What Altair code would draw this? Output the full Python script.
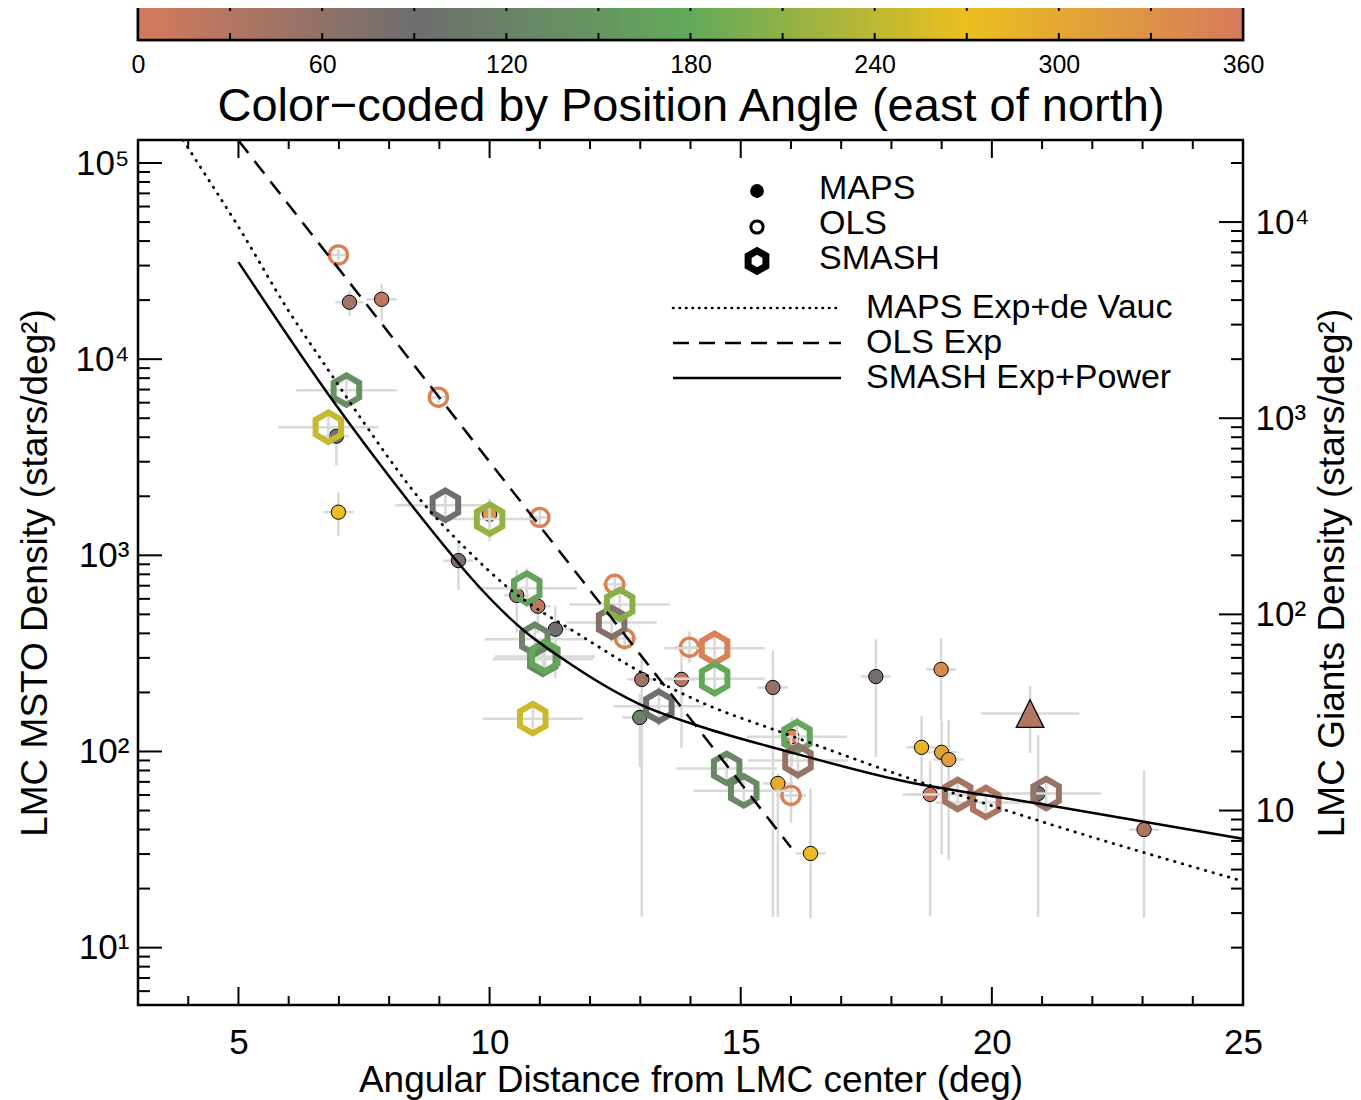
import altair as alt
import numpy as np
import pandas as pd

FONT = "Liberation Sans"
W, H = 1105, 865
CB_H = 36

# ---------------- MAPS (filled circles) ----------------
maps_x = [7.21, 7.85, 6.95, 6.99, 9.38, 10.0, 10.54, 10.96, 11.31, 13.03, 13.82, 12.99,
          15.64, 17.69, 16.02, 15.74, 16.39, 18.99, 18.6, 19.0, 19.14, 18.77, 20.92, 23.03]
maps_y = [19500, 20200, 4050, 1660, 940, 1620, 625, 550, 420, 233, 233, 149,
          212, 241, 119, 68.7, 30.2, 262, 105, 99, 91, 60.4, 61, 40]
maps_xerr = [0.28, 0.30, 0.25, 0.30, 0.30, 0.25, 0.25, 0.25, 0.30, 0.30, 0.30, 0.35,
             0.30, 0.30, 0.30, 0.30, 0.30, 0.30, 0.30, 0.30, 0.30, 0.55, 0.30, 0.30]
maps_dlo = [0.07, 0.11, 0.15, 0.12, 0.15, 0.14, 0.19, 0.14, 0.25, 1.21, 0.35, 0.25,
            1.17, 0.41, 0.15, 0.68, 0.33, 0.26, 0.20, 0.52, 0.51, 0.62, 0.63, 0.45]
maps_dhi = [0.06, 0.08, 0.03, 0.10, 0.10, 0.08, 0.13, 0.06, 0.12, 0.11, 0.15, 0.12,
            0.19, 0.19, 0.10, 0.05, 0.33, 0.16, 0.16, 0.16, 0.20, 0.17, 0.30, 0.30]
maps_pa = [45, 20, 90, 270, 80, 320, 35, 20, 88, 50, 25, 120,
           55, 85, 345, 295, 275, 340, 285, 305, 315, 10, 80, 35]

# extra MAPS point drawn as a triangle
tri_x = [20.76]
tri_y = [156]
tri_xerr = [0.98]
tri_dlo = [0.20]
tri_dhi = [0.14]
tri_pa = [30]

# ---------------- OLS (open circles) ----------------
ols_x = [6.99, 8.98, 11.0, 12.49, 12.69, 13.98, 16.0]
ols_y = [34000, 6400, 1560, 711, 377, 340, 59.7]
ols_xerr = [0.15, 0.15, 0.20, 0.25, 0.25, 0.30, 0.30]
ols_dlo = [0.03, 0.03, 0.04, 0.05, 0.06, 0.08, 0.14]
ols_dhi = [0.03, 0.03, 0.04, 0.05, 0.06, 0.08, 0.30]
ols_pa = [350, 350, 350, 350, 350, 350, 350]

# ---------------- SMASH (open hexagons) ----------------
smash_x = [7.15, 6.79, 9.12, 10.0, 10.74, 10.9, 11.06, 11.1, 12.43, 12.59, 14.48, 14.48,
           10.86, 13.37, 14.72, 15.06, 16.12, 16.14, 19.32, 19.88, 21.08]
smash_y = [6950, 4500, 1800, 1530, 680, 373, 295, 305, 455, 562, 336, 235,
           147, 170, 82, 63, 119, 90, 60.4, 55, 61]
smash_xerr = [1.0, 1.0, 1.0, 1.0, 1.0, 1.0, 1.0, 1.0, 0.9, 1.0, 1.0, 1.0,
              1.0, 0.9, 1.0, 1.0, 1.0, 1.0, 1.0, 1.0, 1.1]
smash_dlo = [0.07, 0.07, 0.07, 0.06, 0.08, 0.08, 0.08, 0.08, 0.10, 0.08, 0.08, 0.08,
             0.06, 0.10, 0.08, 0.08, 0.10, 0.10, 0.08, 0.08, 0.08]
smash_dhi = [0.07, 0.07, 0.07, 0.06, 0.10, 0.08, 0.08, 0.08, 0.10, 0.08, 0.08, 0.08,
             0.06, 0.10, 0.08, 0.08, 0.10, 0.10, 0.08, 0.08, 0.08]
smash_pa = [140, 245, 95, 215, 170, 125, 130, 175, 70, 205, 350, 180,
            250, 95, 130, 130, 175, 55, 45, 35, 55]

# ---------------- model curves ----------------
dot_x = [3.9, 4.0, 5.04, 5.94, 6.83, 7.49, 8.63, 9.52, 10.36, 11.87, 12.95, 14.26,
         15.86, 18.19, 20.92, 25.0]
dot_y = [131000, 119300, 45500, 18620, 8490, 4775, 1910, 1086, 687, 382, 259, 176,
         124, 75.5, 44.5, 21.8]
dash_x = [5.0, 16.0]
dash_y = [130300, 32.4]
solid_x = [5.0, 6.83, 8.37, 9.22, 9.62, 10.68, 11.41, 12.95, 14.26, 15.86, 18.19, 20.92, 25.0]
solid_y = [31260, 6400, 1910, 1023, 773, 414, 302, 176, 132.5, 101.2, 71.1, 54.3, 35.9]

# ---------------- ticks / labels ----------------
x_labels = [5, 10, 15, 20, 25]
x_minor = [3, 4, 6, 7, 8, 9, 11, 12, 13, 14, 16, 17, 18, 19, 21, 22, 23, 24]
left_major = [10, 100, 1000, 10000, 100000]
left_minor = [6, 7, 8, 9, 20, 30, 40, 50, 60, 70, 80, 90,
              200, 300, 400, 500, 600, 700, 800, 900,
              2000, 3000, 4000, 5000, 6000, 7000, 8000, 9000,
              20000, 30000, 40000, 50000, 60000, 70000, 80000, 90000]
right_major = [10, 100, 1000, 10000]
right_minor = [2, 3, 4, 5, 6, 7, 8, 9, 20, 30, 40, 50, 60, 70, 80, 90,
               200, 300, 400, 500, 600, 700, 800, 900,
               2000, 3000, 4000, 5000, 6000, 7000, 8000, 9000, 20000]
cb_labels = [0, 60, 120, 180, 240, 300, 360]
cb_ticks = [30, 60, 90, 120, 150, 180, 210, 240, 270, 300, 330]


def frame(x, y, xerr, dlo, dhi, pa):
    df = pd.DataFrame({"x": x, "y": y, "xerr": xerr, "dlo": dlo, "dhi": dhi, "pa": pa})
    df["xlo"] = df.x - df.xerr
    df["xhi"] = df.x + df.xerr
    df["ylo"] = df.y / 10 ** df.dlo
    df["yhi"] = df.y * 10 ** df.dhi
    return df


maps_df = frame(maps_x, maps_y, maps_xerr, maps_dlo, maps_dhi, maps_pa)
tri_df = frame(tri_x, tri_y, tri_xerr, tri_dlo, tri_dhi, tri_pa)
ols_df = frame(ols_x, ols_y, ols_xerr, ols_dlo, ols_dhi, ols_pa)
smash_df = frame(smash_x, smash_y, smash_xerr, smash_dlo, smash_dhi, smash_pa)

color_scale = alt.Scale(domain=[0, 90, 180, 270, 360],
                        range=["#d67a5c", "#6e6e6e", "#62aa5a", "#ebbf1f", "#d67a5c"],
                        interpolate="rgb")
xscale = alt.Scale(domain=[3, 25], nice=False, zero=False)
yscale = alt.Scale(type="log", domain=[5.1, 131000], nice=False)
y2scale = alt.Scale(type="log", domain=[1.02, 26200], nice=False)

SUP = "['\u2070','\u00b9','\u00b2','\u00b3','\u2074','\u2075','\u2076']"

xaxis = alt.Axis(values=x_labels, title="Angular Distance from LMC center (deg)",
                 ticks=False, domain=False, grid=False, labelFontSize=35, titleFontSize=37,
                 labelPadding=20, titlePadding=2, labelFlush=False, labelOverlap=False,
                 titleFontWeight="normal")
yaxis = alt.Axis(values=left_major,
                 labelExpr="'10' + " + SUP + "[round(log(datum.value) / LN10)]",
                 title="LMC MSTO Density (stars/deg\u00b2)",
                 ticks=False, domain=False, grid=False, labelFontSize=35, titleFontSize=37,
                 labelPadding=9, titlePadding=21, labelFlush=False, labelOverlap=False,
                 titleFontWeight="normal")
y2axis = alt.Axis(orient="right", values=right_major,
                  labelExpr="datum.value < 15 ? '10' : '10' + " + SUP + "[round(log(datum.value) / LN10)]",
                  title="LMC Giants Density (stars/deg\u00b2)",
                  ticks=False, domain=False, grid=False, labelFontSize=35, titleFontSize=37,
                  labelPadding=12, titlePadding=6, titleAngle=270, titleBaseline="top",
                  labelFlush=False, labelOverlap=False, titleFontWeight="normal")


def X(f):
    return alt.X(f, type="quantitative", scale=xscale, axis=xaxis)


def Y(f):
    return alt.Y(f, type="quantitative", scale=yscale, axis=yaxis)


def Y2(f):
    return alt.Y(f, type="quantitative", scale=y2scale, axis=y2axis)


ERR = dict(color="#d9d9d9", strokeWidth=2.5, clip=True)


def errs(df):
    h = alt.Chart(df).mark_rule(**ERR).encode(x=X("xlo"), x2="xhi", y=Y("y"))
    v = alt.Chart(df).mark_rule(**ERR).encode(x=X("x"), y=Y("ylo"), y2="yhi")
    return [h, v]


HEX = "M0,-1L0.866,-0.5L0.866,0.5L0,1L-0.866,0.5L-0.866,-0.5Z"
TRI = "M0,-1L1,1L-1,1Z"

fillpa = alt.Fill("pa:Q", scale=color_scale, legend=None)
strokepa = alt.Stroke("pa:Q", scale=color_scale, legend=None)

maps_pts = alt.Chart(maps_df).mark_point(shape="circle", filled=True, size=205, stroke="black",
                                         strokeWidth=1, opacity=1).encode(
    x=X("x"), y=Y("y"), fill=fillpa)
tri_pts = alt.Chart(tri_df).mark_point(shape=TRI, filled=True, size=760, stroke="black",
                                       strokeWidth=1.3, opacity=1).encode(
    x=X("x"), y=Y("y"), fill=fillpa)
ols_pts = alt.Chart(ols_df).mark_point(shape="circle", filled=False, size=330, strokeWidth=3.4,
                                       opacity=1).encode(x=X("x"), y=Y("y"), stroke=strokepa)
smash_pts = alt.Chart(smash_df).mark_point(shape=HEX, filled=False, size=870, strokeWidth=6,
                                           opacity=1).encode(x=X("x"), y=Y("y"), stroke=strokepa)

dot_df = pd.DataFrame({"x": dot_x, "y": dot_y})
dash_df = pd.DataFrame({"x": dash_x, "y": dash_y})
solid_df = pd.DataFrame({"x": solid_x, "y": solid_y})

dot_line = alt.Chart(dot_df).mark_line(color="black", strokeWidth=2.8, strokeDash=[0.5, 7.5],
                                       strokeCap="round", interpolate="monotone", clip=True).encode(
    x=X("x"), y=Y("y"))
dash_line = alt.Chart(dash_df).mark_line(color="black", strokeWidth=2.5, strokeDash=[16, 10],
                                         clip=True).encode(x=X("x"), y=Y("y"))
solid_line = alt.Chart(solid_df).mark_line(color="black", strokeWidth=2.5, interpolate="monotone",
                                           clip=True).encode(x=X("x"), y=Y("y"))


def tdf(vals):
    return pd.DataFrame({"v": vals})


TICK = dict(color="black", strokeWidth=2)
lt_major = alt.Chart(tdf(left_major)).mark_rule(**TICK).encode(y=Y("v"), x=alt.value(0), x2=alt.value(24))
lt_minor = alt.Chart(tdf(left_minor)).mark_rule(**TICK).encode(y=Y("v"), x=alt.value(0), x2=alt.value(12))
bt_major = alt.Chart(tdf(x_labels)).mark_rule(**TICK).encode(x=X("v"), y=alt.value(H), y2=alt.value(H - 18))
bt_minor = alt.Chart(tdf(x_minor)).mark_rule(**TICK).encode(x=X("v"), y=alt.value(H), y2=alt.value(H - 9))
tt_major = alt.Chart(tdf(x_labels)).mark_rule(**TICK).encode(x=X("v"), y=alt.value(0), y2=alt.value(18))
tt_minor = alt.Chart(tdf(x_minor)).mark_rule(**TICK).encode(x=X("v"), y=alt.value(0), y2=alt.value(9))

one = pd.DataFrame({"a": [0]})
LX, LTX = 619, 681
leg = [
    alt.Chart(one).mark_point(shape="circle", filled=True, size=190, color="black", opacity=1).encode(
        x=alt.value(LX), y=alt.value(51)),
    alt.Chart(one).mark_point(shape="circle", filled=False, size=150, color="black", strokeWidth=3,
                              opacity=1).encode(x=alt.value(LX), y=alt.value(87)),
    alt.Chart(one).mark_point(shape=HEX, filled=False, size=420, color="black", strokeWidth=7,
                              opacity=1).encode(x=alt.value(LX), y=alt.value(121)),
]
for t, yy in [("MAPS", 49), ("OLS", 84), ("SMASH", 119)]:
    leg.append(alt.Chart(one).mark_text(text=t, align="left", baseline="middle", font=FONT,
                                        fontSize=34, color="black").encode(
        x=alt.value(LTX), y=alt.value(yy)))
line_styles = [("MAPS Exp+de Vauc", 168, dict(strokeDash=[0.5, 6], strokeCap="round", strokeWidth=2.6)),
               ("OLS Exp", 203, dict(strokeDash=[16, 10], strokeWidth=2.5)),
               ("SMASH Exp+Power", 238, dict(strokeWidth=2.5))]
for t, yy, st in line_styles:
    leg.append(alt.Chart(one).mark_rule(color="black", **st).encode(
        x=alt.value(535), x2=alt.value(703), y=alt.value(yy)))
    leg.append(alt.Chart(one).mark_text(text=t, align="left", baseline="middle", font=FONT,
                                        fontSize=34, color="black").encode(
        x=alt.value(728), y=alt.value(yy)))

left_group = alt.layer(
    *errs(maps_df), maps_pts, *errs(tri_df), tri_pts,
    *errs(ols_df), ols_pts,
    *errs(smash_df), smash_pts,
    dot_line, dash_line, solid_line,
    lt_major, lt_minor, bt_major, bt_minor, tt_major, tt_minor,
    *leg,
)

rt_major = alt.Chart(tdf(right_major)).mark_rule(**TICK).encode(y=Y2("v"), x=alt.value(W), x2=alt.value(W - 24))
rt_minor = alt.Chart(tdf(right_minor)).mark_rule(**TICK).encode(y=Y2("v"), x=alt.value(W), x2=alt.value(W - 12))
right_group = alt.layer(rt_major, rt_minor)

main = alt.layer(left_group, right_group).resolve_scale(y="independent").properties(width=W, height=H)

# ---------------- colour bar ----------------
cb_df = pd.DataFrame({"a0": np.arange(0, 360, 1.0)})
cb_df["a1"] = np.minimum(cb_df.a0 + 1.6, 360)
cb_df["mid"] = cb_df.a0 + 0.5
cbx = alt.Scale(domain=[0, 360], nice=False, zero=False)
cbaxis = alt.Axis(values=cb_labels, ticks=False, domain=False, grid=False, labelFontSize=25,
                  labelPadding=12, title="Color\u2212coded by Position Angle (east of north)",
                  titleFontSize=47, titlePadding=6, titleFontWeight="normal", labelFlush=False,
                  labelOverlap=False)
cb_rect = alt.Chart(cb_df).mark_rect(strokeWidth=0).encode(
    x=alt.X("a0:Q", scale=cbx, axis=cbaxis), x2="a1",
    y=alt.value(0), y2=alt.value(CB_H),
    color=alt.Color("mid:Q", scale=color_scale, legend=None))
cb_ttop = alt.Chart(tdf(cb_ticks)).mark_rule(**TICK).encode(
    x=alt.X("v:Q", scale=cbx, axis=cbaxis), y=alt.value(0), y2=alt.value(7))
cb_tbot = alt.Chart(tdf(cb_ticks)).mark_rule(**TICK).encode(
    x=alt.X("v:Q", scale=cbx, axis=cbaxis), y=alt.value(CB_H - 7), y2=alt.value(CB_H))
cb_frame = alt.Chart(one).mark_rect(fillOpacity=0, stroke="black", strokeWidth=2.5).encode(
    x=alt.value(0), x2=alt.value(W), y=alt.value(0), y2=alt.value(CB_H))
cb = alt.layer(cb_rect, cb_ttop, cb_tbot, cb_frame).properties(width=W, height=CB_H)

chart = alt.vconcat(cb, main, spacing=6).properties(
    padding={"left": 6, "top": -7, "right": 0, "bottom": 0}, background="white"
).configure_view(stroke="black", strokeWidth=2.5).configure_axis(
    labelFont=FONT, titleFont=FONT, labelColor="black", titleColor="black")

chart.save("out.html", embed_options={"renderer": "svg", "actions": False})
